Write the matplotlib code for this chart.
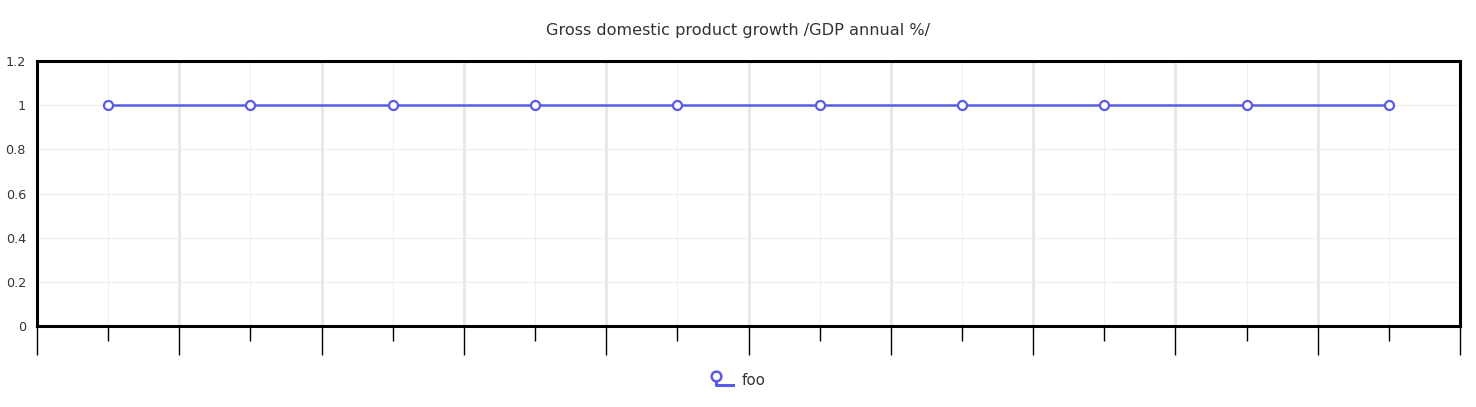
import numpy as np
import matplotlib.pyplot as plt
from matplotlib.legend_handler import HandlerBase
from matplotlib.lines import Line2D
from matplotlib.ticker import FixedLocator

title = "Gross domestic product growth /GDP annual %/"
series_name = "foo"
values = [1, 1, 1, 1, 1, 1, 1, 1, 1, 1]
y_ticks = [0, 0.2, 0.4, 0.6, 0.8, 1, 1.2]
y_labels = ["0", "0.2", "0.4", "0.6", "0.8", "1", "1.2"]

line_color = "#5a5ae6"


class ElbowHandler(HandlerBase):
    # legend icon: circle with an L-shaped line under it
    def create_artists(self, legend, orig_handle, xd, yd, width, height, fontsize, trans):
        x0 = xd + width * 0.25
        y_top = yd + height * 0.85
        y_bot = yd + height * 0.0
        stem = Line2D([x0, x0, xd + width * 0.95], [y_top, y_bot, y_bot],
                      color=line_color, lw=2.2, transform=trans)
        dot = Line2D([x0], [y_top], marker="o", ms=7, mfc="white", mec=line_color,
                     mew=1.8, ls="none", transform=trans)
        return [stem, dot]


fig = plt.figure(figsize=(14.76, 4.07), dpi=100)
ax = fig.add_axes([0.0251, 0.199, 0.9641, 0.651])

x = np.arange(len(values))
line, = ax.plot(x, values, color=line_color, lw=1.8, marker="o", ms=6.5,
                mfc="white", mec=line_color, mew=1.6, zorder=3)

ax.set_xlim(-0.5, len(values) - 0.5)
ax.set_ylim(0, 1.2)
ax.set_yticks(y_ticks)
ax.set_yticklabels(y_labels)

ax.xaxis.set_major_locator(FixedLocator(np.arange(-0.5, len(values), 1.0)))
ax.xaxis.set_minor_locator(FixedLocator(x))
ax.set_xticklabels([])

ax.tick_params(axis="x", which="major", length=21, width=1, color="black", direction="out")
ax.tick_params(axis="x", which="minor", length=11, width=1, color="black", direction="out")
ax.tick_params(axis="y", length=0, pad=8, labelsize=9.2, labelcolor="#333333")

ax.grid(axis="x", which="major", color="#e8e8e8", lw=2.2, zorder=0)
ax.grid(axis="x", which="minor", color="#f0f0f0", lw=0.8, zorder=0)
ax.grid(axis="y", which="major", color="#eeeeee", lw=0.8, zorder=0)

for side in ["left", "bottom", "top", "right"]:
    ax.spines[side].set_linewidth(2.2)
    ax.spines[side].set_color("black")

fig.text(0.5, 0.925, title, ha="center", va="center", fontsize=11.6, color="#333333")

fig.legend([line], [series_name], loc="center", bbox_to_anchor=(0.5, 0.066),
           frameon=False, fontsize=10.8, handler_map={line: ElbowHandler()},
           handlelength=1.6, handletextpad=0.5, labelcolor="#333333")

fig.savefig("out.png", dpi=100)
